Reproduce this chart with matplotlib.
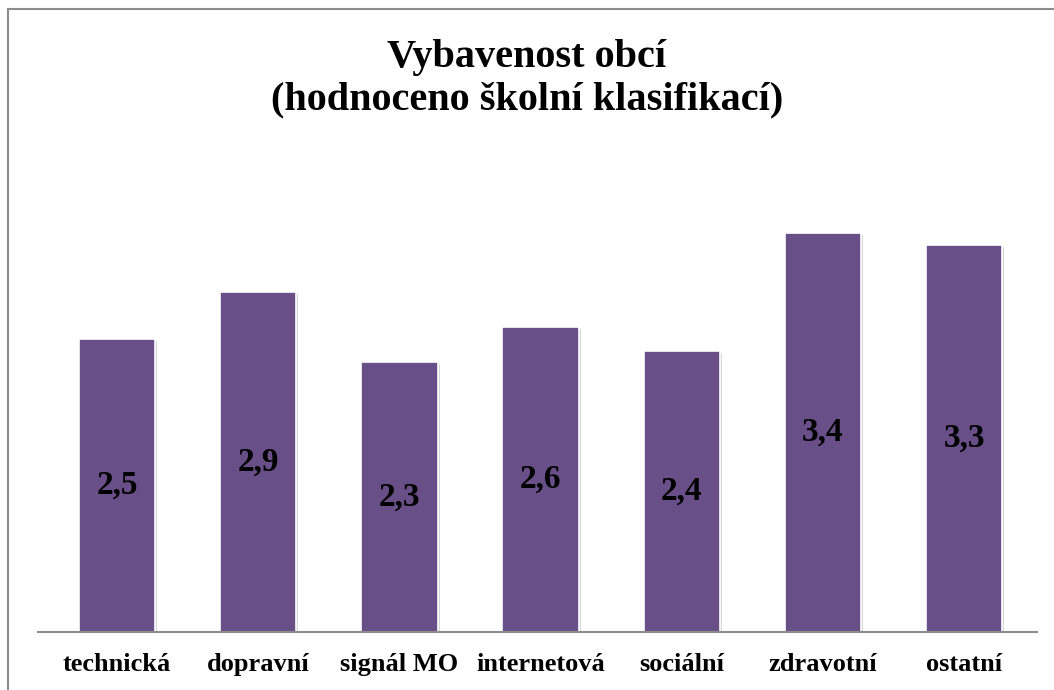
import matplotlib
matplotlib.use('Agg')
import matplotlib.pyplot as plt
import matplotlib.patheffects as pe
from matplotlib.patches import Rectangle

categories = ['technická', 'dopravní', 'signál MO', 'internetová', 'sociální', 'zdravotní', 'ostatní']
values = [2.5, 2.9, 2.3, 2.6, 2.4, 3.4, 3.3]
labels = ['2,5', '2,9', '2,3', '2,6', '2,4', '3,4', '3,3']

plt.rcParams['font.family'] = ['Liberation Serif', 'DejaVu Serif']

fig = plt.figure(figsize=(10.54, 6.90), dpi=100)
ax = fig.add_axes([0.036, 0.084, 0.948, 0.680])

x = range(len(categories))
bars = ax.bar(x, values, width=0.54, color='#694f87', edgecolor='white', linewidth=1.2,
              path_effects=[pe.SimplePatchShadow(offset=(1.5, -1.5), shadow_rgbFace='#b0b0b0', alpha=0.5),
                            pe.Normal()])
for b, lab in zip(bars, labels):
    ax.text(b.get_x() + b.get_width() / 2, b.get_height() / 2, lab,
            ha='center', va='center', fontsize=24, fontweight='bold', color='black')

ax.set_xlim(-0.56, 6.517)
ax.set_ylim(0, 4)
ax.set_yticks([])
ax.set_xticks(list(x))
ax.set_xticklabels(categories, fontsize=19, fontweight='bold')
ax.tick_params(axis='x', length=0, pad=15)
for s in ['top', 'right', 'left']:
    ax.spines[s].set_visible(False)
ax.spines['bottom'].set_color('#8c8c8c')
ax.spines['bottom'].set_linewidth(1.5)

fig.text(0.5, 0.917, 'Vybavenost obcí', ha='center', va='center', fontsize=29, fontweight='bold')
fig.text(0.5, 0.855, '(hodnoceno školní klasifikací)', ha='center', va='center', fontsize=29, fontweight='bold')

# outer frame of the chart area
fig.add_artist(Rectangle((8 / 1054, -0.05), 1.2, 0.05 + 1 - 9 / 690, transform=fig.transFigure,
                         fill=False, edgecolor='#8c8c8c', linewidth=1.5))

fig.savefig('out.png', dpi=100)
